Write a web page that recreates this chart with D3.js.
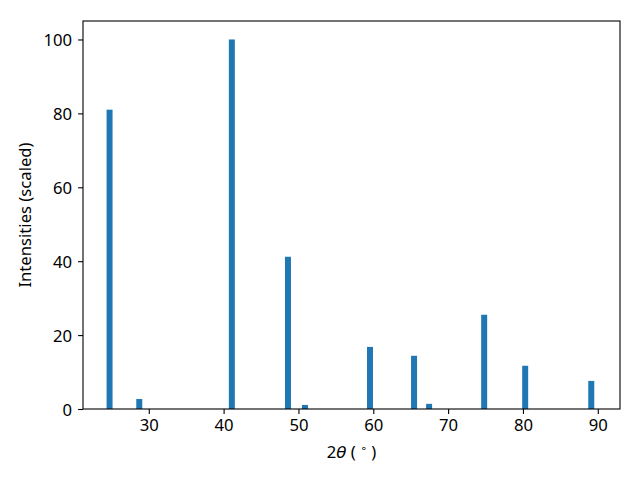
<!DOCTYPE html>
<html>
<head>
<meta charset="utf-8">
<script src="https://cdn.jsdelivr.net/npm/d3@7"></script>
<style>
  body { margin: 0; background: #fff; }
  text { font-family: "Noto Sans", "DejaVu Sans", sans-serif; fill: #000; }
</style>
</head>
<body>
<svg id="chart" width="640" height="480"></svg>
<script>
// peak positions (2theta, degrees) and scaled intensities
const angles = [24.76, 28.73, 41.10, 48.60, 50.87, 59.56, 65.45, 67.46, 74.82, 80.30, 89.13];
const intensities = [81.0, 2.7, 100, 41.2, 1.1, 16.8, 14.4, 1.4, 25.5, 11.7, 7.6];
const xTicks = [30, 40, 50, 60, 70, 80, 90];
const yTicks = [0, 20, 40, 60, 80, 100];

const barWidth = 0.8; // in degrees
const margin = { left: 83, right: 20, top: 21, bottom: 71 };
const width = 640, height = 480;
const fontSize = "16.67px";

const svg = d3.select("#chart");

const x = d3.scaleLinear().domain([21.21, 92.97]).range([margin.left, width - margin.right]);
const y = d3.scaleLinear().domain([0, 105]).range([height - margin.bottom, margin.top]);

// bars
svg.append("g")
    .selectAll("rect")
    .data(angles)
    .join("rect")
    .attr("x", (d) => x(d - barWidth / 2))
    .attr("width", (d) => x(d + barWidth / 2) - x(d - barWidth / 2))
    .attr("y", (d, i) => y(intensities[i]))
    .attr("height", (d, i) => y(0) - y(intensities[i]))
    .attr("fill", "#1f77b4");

// axes
const xAxis = svg.append("g")
    .attr("transform", `translate(0,${height - margin.bottom})`)
    .call(d3.axisBottom(x).tickValues(xTicks).tickSize(4.9).tickPadding(5).tickFormat(d3.format("d")));
const yAxis = svg.append("g")
    .attr("transform", `translate(${margin.left},0)`)
    .call(d3.axisLeft(y).tickValues(yTicks).tickSize(4.9).tickPadding(6).tickFormat(d3.format("d")));

[xAxis, yAxis].forEach(ax => {
    ax.attr("font-family", null).attr("font-size", null);
    ax.select(".domain").remove();
    ax.selectAll(".tick line").attr("stroke", "#000").attr("stroke-width", 1.1);
    ax.selectAll(".tick text").style("font-size", fontSize).attr("fill", "#000");
});
yAxis.selectAll(".tick text").attr("dy", "0.36em");

// frame
svg.append("rect")
    .attr("x", margin.left)
    .attr("y", margin.top)
    .attr("width", width - margin.left - margin.right)
    .attr("height", height - margin.top - margin.bottom)
    .attr("fill", "none")
    .attr("stroke", "#000")
    .attr("stroke-width", 1.1);

// axis labels
const xl = svg.append("text")
    .attr("x", (margin.left + width - margin.right) / 2)
    .attr("y", 458)
    .attr("text-anchor", "middle")
    .style("font-size", fontSize);
xl.append("tspan").text("2");
xl.append("tspan").attr("font-family", "DejaVu Sans").attr("font-style", "italic").text("θ");
xl.append("tspan").text(" ( ");
xl.append("tspan").attr("dy", -6).attr("font-family", "DejaVu Sans").style("font-size", "11px").text("∘");
xl.append("tspan").attr("dy", 6).text(" )");

svg.append("text")
    .attr("transform", `translate(31,${(margin.top + height - margin.bottom) / 2}) rotate(-90)`)
    .attr("text-anchor", "middle")
    .style("font-size", fontSize)
    .text("Intensities (scaled)");
</script>
</body>
</html>
